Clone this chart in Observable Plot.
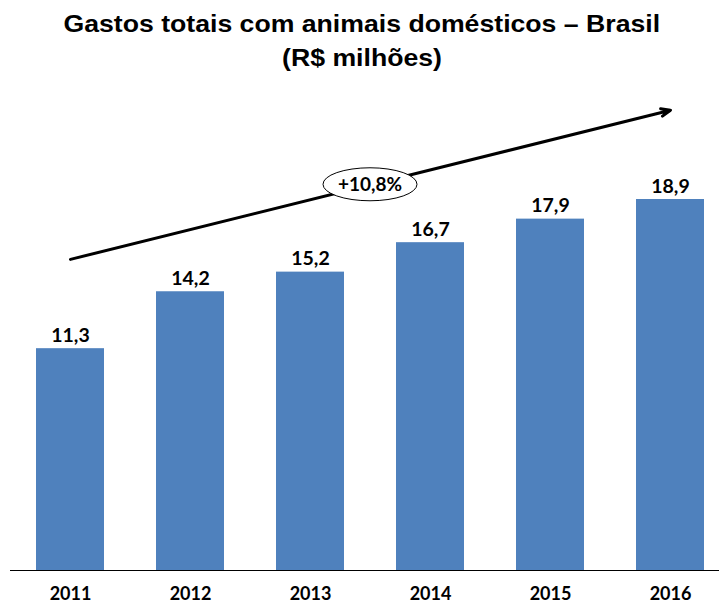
<!DOCTYPE html>
<html>
<head>
<meta charset="utf-8">
<script src="https://cdn.jsdelivr.net/npm/d3@7"></script>
<script src="https://cdn.jsdelivr.net/npm/@observablehq/plot@0.6"></script>
<style>
  html, body { margin: 0; padding: 0; background: #fff; }
  #title {
    height: 90px; box-sizing: border-box; padding-top: 7px; padding-left: 5px;
    text-align: center; font-family: "Liberation Sans", Arial, sans-serif;
    font-weight: bold; font-size: 24px; line-height: 34px; color: #000;
  }
  #title span { display: inline-block; transform: scaleX(1.11); }
  #chart svg { display: block; }
</style>
</head>
<body>
<div id="title"><span>Gastos totais com animais domésticos – Brasil</span><br><span>(R$ milhões)</span></div>
<div id="chart"></div>
<script>
// Data
const years = ["2011", "2012", "2013", "2014", "2015", "2016"];
const values = [11.3, 14.2, 15.2, 16.7, 17.9, 18.9];
// Trend annotation (in data units)
const trendStart = ["2011", 15.85];
const trendEnd = ["2016", 23.45];
const trendLabel = "+10,8%";

const data = years.map((y, i) => ({year: y, value: values[i]}));
const ptBR = d3.formatLocale({decimal: ",", thousands: ".", grouping: [3], currency: ["R$", ""]});
const fmt = ptBR.format(".1f");

const labelFont = "Lato, 'Open Sans', sans-serif";

const chart = Plot.plot({
  width: 719,
  height: 516,
  marginLeft: 10,
  marginRight: 0,
  marginTop: 109,
  marginBottom: 36,
  x: {type: "band", domain: years, paddingInner: 0.4333, paddingOuter: 0.1708, align: 0.634, label: null},
  y: {domain: [0, 18.9], axis: null},
  style: {fontFamily: labelFont, background: "#fff", overflow: "visible"},
  marks: [
    Plot.barY(data, {x: "year", y: "value", fill: "#4F81BD"}),
    Plot.ruleY([0], {stroke: "#000", strokeWidth: 1}),
    Plot.text(data, {x: "year", y: "value", text: d => fmt(d.value), dy: -7, lineAnchor: "bottom",
      fontSize: 19.5, fontWeight: "bold", fill: "#000"}),
    Plot.axisX({tickSize: 0, tickPadding: 17, fontSize: 18, fontWeight: "bold", fill: "#000", label: null}),
    Plot.arrow([{x1: trendStart[0], y1: trendStart[1], x2: trendEnd[0], y2: trendEnd[1]}],
      {x1: "x1", y1: "y1", x2: "x2", y2: "y2", stroke: "#000", strokeWidth: 3, headLength: 5, headAngle: 45})
  ]
});
document.getElementById("chart").appendChild(chart);

// Ellipse label at the middle of the trend arrow, positioned with the plot's scales
const sx = chart.scale("x"), sy = chart.scale("y");
const cx = (sx.apply(trendStart[0]) + sx.apply(trendEnd[0])) / 2 + sx.bandwidth / 2;
const cy = sy.apply((trendStart[1] + trendEnd[1]) / 2);
const g = d3.select(chart).append("g");
g.append("ellipse").attr("cx", cx).attr("cy", cy).attr("rx", 47).attr("ry", 16.5)
  .attr("fill", "#fff").attr("stroke", "#000").attr("stroke-width", 1);
g.append("text").attr("x", cx).attr("y", cy).attr("dy", "0.36em").attr("text-anchor", "middle")
  .attr("font-family", labelFont).attr("font-weight", "bold").attr("font-size", 19).attr("fill", "#000")
  .text(trendLabel);
</script>
</body>
</html>
